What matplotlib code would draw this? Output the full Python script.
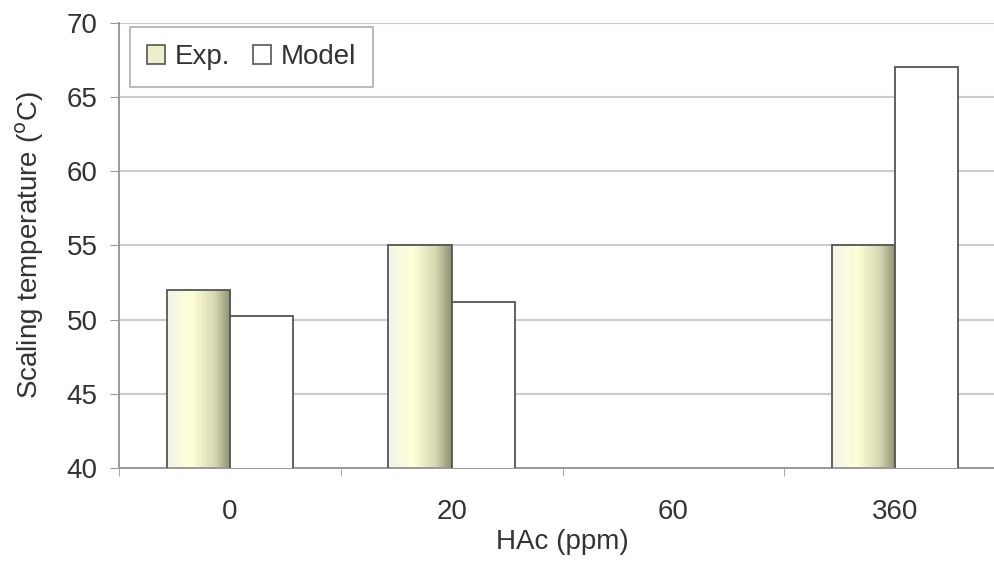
import numpy as np
import matplotlib
matplotlib.use("Agg")
import matplotlib.pyplot as plt
from matplotlib.colors import LinearSegmentedColormap
from matplotlib.patches import Rectangle

plt.rcParams['font.family'] = ['Liberation Sans', 'DejaVu Sans']

# data
categories = ["0", "20", "60", "360"]
exp_vals = [52.0, 55.0, np.nan, 55.0]
model_vals = [50.25, 51.2, np.nan, 67.0]

fig = plt.figure(figsize=(9.95, 5.61), dpi=100)
ax = fig.add_axes([119 / 995, 1 - 468 / 561, 887 / 995, 445 / 561])

x = np.arange(len(categories))
w = 0.285
FS = 20

grad = LinearSegmentedColormap.from_list(
    "excel", [(0.0, "#f4f4ea"), (0.4, "#ffffd6"), (0.75, "#d6d6b0"), (1.0, "#8e8e72")])
gimg = np.linspace(0, 1, 256).reshape(1, -1)

exp_bars = ax.bar(x - w / 2, exp_vals, w, facecolor="none",
                  edgecolor="#555555", linewidth=1.3, zorder=3)
model_bars = ax.bar(x + w / 2, model_vals, w, facecolor="white",
                    edgecolor="#555555", linewidth=1.3, zorder=3)

# gradient fill for the Exp. bars
for b in exp_bars:
    if np.isnan(b.get_height()):
        continue
    x0, y0 = b.get_x(), 40
    x1, y1 = b.get_x() + b.get_width(), b.get_height()
    im = ax.imshow(gimg, cmap=grad, aspect="auto", extent=(x0, x1, y0, y1),
                   zorder=2.5, interpolation="bicubic")
    clip = Rectangle((x0, y0), x1 - x0, y1 - y0, transform=ax.transData)
    im.set_clip_path(clip)

ax.set_xlim(-0.5, len(categories) - 0.5)
ax.set_ylim(40, 70)
ax.set_yticks(np.arange(40, 71, 5))
ax.set_xticks(x)
ax.set_xticklabels(categories)
ax.set_xticks(np.arange(-0.5, len(categories), 1.0), minor=True)
ax.tick_params(axis="x", which="major", length=0, pad=22, labelsize=FS, labelcolor="#333333")
ax.tick_params(axis="x", which="minor", length=6, color="#999999", direction="out")
ax.tick_params(axis="y", length=6.5, color="#999999", labelsize=FS, labelcolor="#333333", pad=9)

ax.yaxis.grid(True, color="#cccccc", linewidth=1.5, zorder=0)
ax.set_axisbelow(True)
for s in ["top", "right"]:
    ax.spines[s].set_visible(False)
for s in ["left", "bottom"]:
    ax.spines[s].set_color("#999999")
    ax.spines[s].set_linewidth(1.4)

ax.set_ylabel("Scaling temperature ($^{\\rm o}$C)", fontsize=FS, color="#333333", labelpad=15)
ax.set_xlabel("HAc (ppm)", fontsize=FS, color="#333333", labelpad=3)

h1 = Rectangle((0, 0), 1, 1, facecolor="#eeeecc", edgecolor="#555555", linewidth=1.2)
h2 = Rectangle((0, 0), 1, 1, facecolor="white", edgecolor="#555555", linewidth=1.2)
leg = ax.legend([h1, h2], ["Exp.", "Model"], loc="upper left", ncol=2,
                bbox_to_anchor=(0.012, 0.991), fontsize=FS, frameon=True,
                fancybox=False, edgecolor="#999999", handlelength=0.65, handleheight=0.65,
                handletextpad=0.36, columnspacing=0.8, borderpad=0.62, borderaxespad=0)
leg.get_frame().set_linewidth(1.2)
for t in leg.get_texts():
    t.set_color("#333333")

fig.savefig("out.png", dpi=100)
